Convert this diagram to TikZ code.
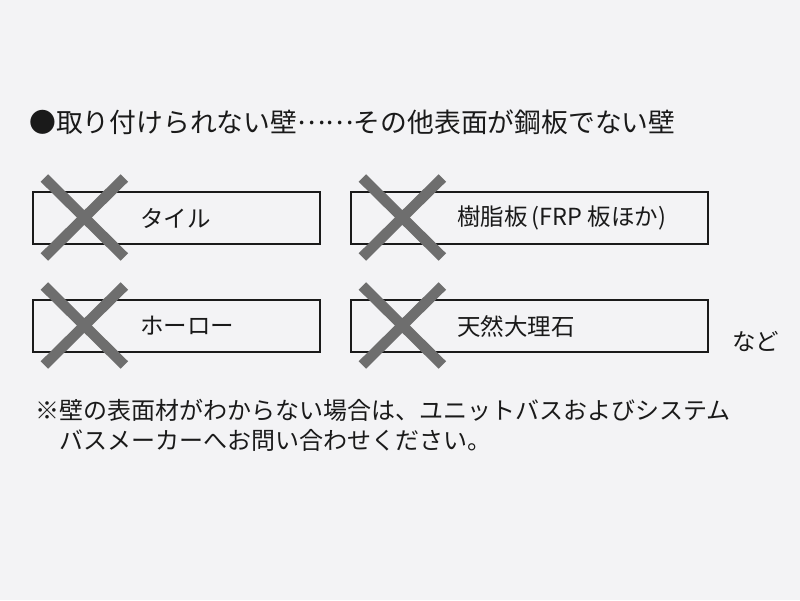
\documentclass[tikz,border=0pt]{standalone}
\usepackage{fontspec}
\setmainfont{Noto Sans CJK JP}
\usetikzlibrary{positioning}

\definecolor{bg}{HTML}{F3F3F5}
\definecolor{ink}{HTML}{1A1A1A}
\definecolor{crossgray}{HTML}{6E6E6E}

\tikzset{
  wallbox/.style={draw=ink, line width=1.3pt, minimum width=287pt,
    minimum height=52pt, inner sep=0pt},
  heading/.style={anchor=west, inner sep=0pt, text=ink,
    font=\fontsize{26.8}{30}\selectfont},
  wallname/.style={anchor=west, inner sep=0pt, text=ink,
    font=\fontsize{23.5}{28}\selectfont},
  notetext/.style={anchor=west, inner sep=0pt, text=ink,
    font=\fontsize{24}{28}\selectfont},
  nocross/.style={draw=crossgray, line width=10.5pt}
}

\begin{document}
\begin{tikzpicture}[x=1pt,y=-1pt]
%Background
\fill[bg] (0,0) rectangle (800,600);
\useasboundingbox (0,0) rectangle (800,600);

%Nodes
\node[heading]  (head)   at (29,122)    {●取り付けられない壁\raisebox{0.3em}{……}その他表面が鋼板でない壁};
\node[wallbox]  (tile)   at (176.5,218) {};
\node[wallbox, minimum width=357pt]  (resin)  at (529.5,218) {};
\node[wallbox]  (enamel) at (176.5,326) {};
\node[wallbox, minimum width=357pt]  (marble) at (529.5,326) {};
\node[wallname] (tilet)   at (140,218)  {タイル};
\node[wallname] (resint)  at (457,218)  {樹脂板\,(FRP 板ほか)};
\node[wallname] (enamelt) at (140,326)  {ホーロー};
\node[wallname] (marblet) at (457,326)  {天然大理石};
\node[wallname] (etc)     at (732,342)  {など};
\node[notetext] (note1)   at (35,410)   {※壁の表面材がわからない場合は、ユニットバスおよびシステム};
\node[notetext] (note2)   at (59,440)   {バスメーカーへお問い合わせください。};

%Crosses
\draw[nocross] ([xshift=12pt,yshift=40pt]tile.west) -- ([xshift=92pt,yshift=-39pt]tile.west);
\draw[nocross] ([xshift=92pt,yshift=40pt]tile.west) -- ([xshift=12pt,yshift=-39pt]tile.west);
\draw[nocross] ([xshift=12pt,yshift=40pt]resin.west) -- ([xshift=92pt,yshift=-39pt]resin.west);
\draw[nocross] ([xshift=92pt,yshift=40pt]resin.west) -- ([xshift=12pt,yshift=-39pt]resin.west);
\draw[nocross] ([xshift=12pt,yshift=40pt]enamel.west) -- ([xshift=92pt,yshift=-39pt]enamel.west);
\draw[nocross] ([xshift=92pt,yshift=40pt]enamel.west) -- ([xshift=12pt,yshift=-39pt]enamel.west);
\draw[nocross] ([xshift=12pt,yshift=40pt]marble.west) -- ([xshift=92pt,yshift=-39pt]marble.west);
\draw[nocross] ([xshift=92pt,yshift=40pt]marble.west) -- ([xshift=12pt,yshift=-39pt]marble.west);
\end{tikzpicture}
\end{document}
